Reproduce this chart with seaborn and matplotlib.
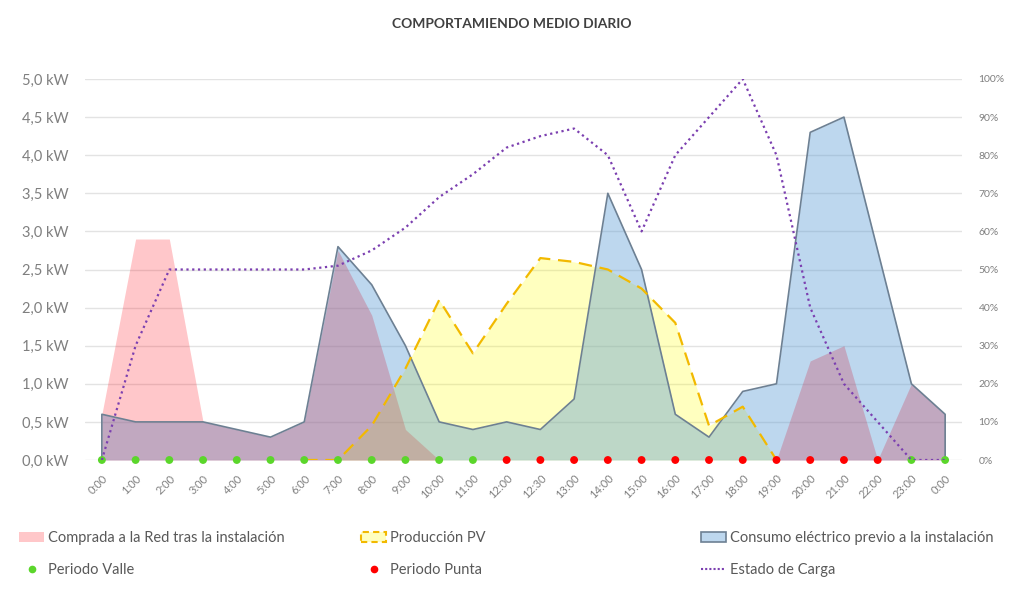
import numpy as np
import matplotlib
matplotlib.use("Agg")
import matplotlib.pyplot as plt
import seaborn as sns
from matplotlib.patches import Patch
from matplotlib.lines import Line2D
from matplotlib.ticker import FuncFormatter, MultipleLocator

# ---------------- data ----------------
hours = ["0:00", "1:00", "2:00", "3:00", "4:00", "5:00", "6:00", "7:00", "8:00", "9:00",
         "10:00", "11:00", "12:00", "12:30", "13:00", "14:00", "15:00", "16:00", "17:00",
         "18:00", "19:00", "20:00", "21:00", "22:00", "23:00", "0:00"]
consumo = [0.6, 0.5, 0.5, 0.5, 0.4, 0.3, 0.5, 2.8, 2.3, 1.5, 0.5, 0.4, 0.5, 0.4, 0.8,
           3.5, 2.5, 0.6, 0.3, 0.9, 1.0, 4.3, 4.5, 2.75, 1.0, 0.6]
comprada = [0.6, 2.9, 2.9, 0.5, 0.4, 0.3, 0.5, 2.75, 1.9, 0.4, 0.0, 0.0, 0.0, 0.0, 0.0,
            0.0, 0.0, 0.0, 0.0, 0.0, 0.0, 1.3, 1.5, 0.0, 1.0, 0.6]
produccion = [None, None, None, None, None, None, 0.0, 0.0, 0.45, 1.2, 2.1, 1.4, 2.05, 2.65,
              2.6, 2.5, 2.25, 1.8, 0.45, 0.7, 0.0, None, None, None, None, None]
estado = [0, 30, 50, 50, 50, 50, 50, 51, 55, 61, 69, 75, 82, 85, 87, 80, 60, 80, 90, 100,
          80, 40, 20, 10, 0, 0]
periodo = ["Valle"] * 12 + ["Punta"] * 12 + ["Valle"] * 2

# ---------------- style ----------------
sns.set_theme(style="white")
plt.rcParams["font.family"] = ["Lato", "DejaVu Sans"]

txt_gray = "#7f7f7f"
grid_c = "#e3e3e3"

fig = plt.figure(figsize=(10.24, 6.01), dpi=100)
ax = fig.add_axes([85 / 1024, 1 - 460 / 601, (962 - 85) / 1024, (460 - 79) / 601])
ax2 = ax.twinx()

x = np.arange(len(hours))
cons = np.array(consumo, dtype=float)
comp = np.array(comprada, dtype=float)
prod = np.array([np.nan if v is None else v for v in produccion], dtype=float)

blue_c = (91 / 255, 155 / 255, 213 / 255)
yellow_c = (1.0, 1.0, 0.0)
pink_c = (1.0, 0.0, 0.06)

ax.fill_between(x, 0, comp, color=pink_c, alpha=0.22, lw=0, zorder=2)
pv_mask = ~np.isnan(prod)
ax.fill_between(x, 0, np.nan_to_num(prod), where=pv_mask, color=yellow_c, alpha=0.25,
                lw=0, zorder=3)
ax.fill_between(x, 0, cons, color=blue_c, alpha=0.4, lw=0, zorder=4)
# light pink tint over the overlap so the mixed area reads mauve
ax.fill_between(x, 0, np.minimum(comp, cons), color=pink_c, alpha=0.07, lw=0, zorder=4.5)

# outline of consumption area (incl. vertical ends)
ox = np.concatenate([[x[0]], x, [x[-1]]])
oy = np.concatenate([[0], cons, [0]])
ax.plot(ox, oy, color="#6d8093", lw=1.2, zorder=5)

# PV dashed line
sns.lineplot(x=x, y=prod, ax=ax, color="#f2b900", lw=1.6, zorder=6)
ax.lines[-1].set_dashes([6, 3.5])

# period dots
pal = {"Valle": "#5bd62b", "Punta": "#ff0000"}
sns.scatterplot(x=x, y=np.zeros(len(x)), hue=periodo, palette=pal, ax=ax, s=32,
                linewidth=0, zorder=8, legend=False)
ax.collections[-1].set_clip_on(False)

# estado de carga on right axis
sns.lineplot(x=x, y=estado, ax=ax2, color="#7b3fb0", lw=1.6, zorder=9)
ax2.lines[-1].set_linestyle((0, (1, 1.6)))

# ---------------- axes ----------------
ax.set_xlim(-0.5, len(hours) - 0.5)
ax.set_ylim(0, 5)
ax2.set_ylim(0, 100)
ax.yaxis.set_major_locator(MultipleLocator(0.5))
ax2.yaxis.set_major_locator(MultipleLocator(10))
ax.yaxis.set_major_formatter(FuncFormatter(lambda v, p: f"{v:.1f}".replace(".", ",") + " kW"))
ax2.yaxis.set_major_formatter(FuncFormatter(lambda v, p: f"{v:.0f}%"))
ax.grid(axis="y", color=grid_c, lw=1)
ax.set_axisbelow(True)
ax.set_xticks(x)
ax.set_xticklabels(hours, rotation=45, ha="right", rotation_mode="anchor",
                   fontsize=8, color=txt_gray)
ax.tick_params(axis="x", length=0, pad=9)
ax.tick_params(axis="y", length=0, pad=12, labelsize=10.5, labelcolor=txt_gray)
ax2.tick_params(axis="y", length=0, pad=12, labelsize=7.5, labelcolor=txt_gray)
for a in (ax, ax2):
    for s in a.spines.values():
        s.set_visible(False)
ax.set_xlabel("")
ax.set_ylabel("")
ax2.set_ylabel("")
ax2.patch.set_visible(False)

fig.text(0.5, 1 - 24 / 601, "COMPORTAMIENDO MEDIO DIARIO", ha="center", va="center",
         fontsize=10, fontweight="bold", color="#404040")

# ---------------- legend ----------------
h_comp = Patch(facecolor=(1, 0.78, 0.79), edgecolor="none", label="Comprada a la Red tras la instalación")
h_pv = Patch(facecolor=(1, 1, 0.75), edgecolor="#f2b900", lw=1.5, ls=(0, (3, 2)), label="Producción PV")
h_cons = Patch(facecolor=(189 / 255, 215 / 255, 238 / 255), edgecolor="#6d8093", lw=1.2,
               label="Consumo eléctrico previo a la instalación")
h_valle = Line2D([], [], marker="o", ls="none", color="#5bd62b", markersize=4.5, label="Periodo Valle")
h_punta = Line2D([], [], marker="o", ls="none", color="#ff0000", markersize=4.5, label="Periodo Punta")
h_est = Line2D([], [], color="#7b3fb0", lw=1.5, ls=(0, (1, 1)), label="Estado de Carga")

legkw = dict(frameon=False, fontsize=10.5, labelcolor="#595959", handlelength=1.7,
             handleheight=0.6, handletextpad=0.25, labelspacing=1.2, loc="upper left")
for hs, xpos in (([h_comp, h_valle], 6 / 1024), ([h_pv, h_punta], 348 / 1024),
                 ([h_cons, h_est], 688 / 1024)):
    fig.legend(handles=hs, bbox_to_anchor=(xpos, 1 - 518 / 601), **legkw)

fig.savefig("out.png", dpi=100, facecolor="white")
